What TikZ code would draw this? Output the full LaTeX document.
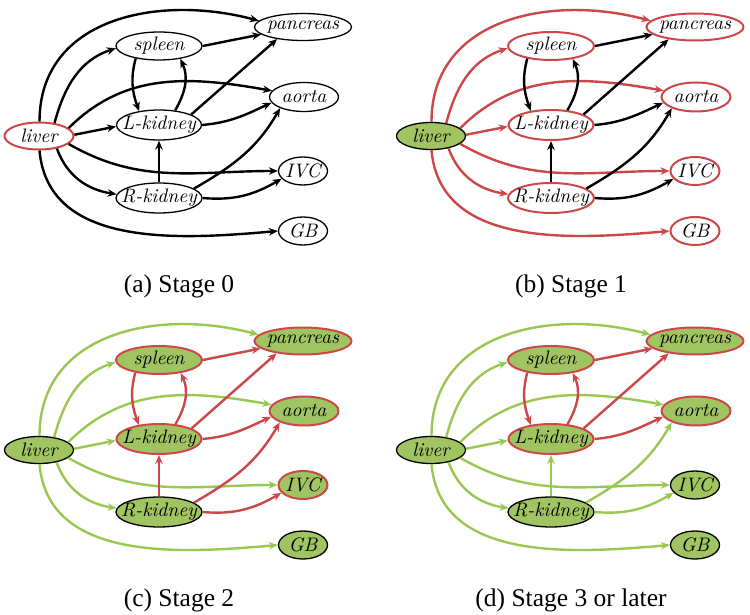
\documentclass[tikz,border=0pt]{standalone}
\usepackage{fontspec}
\usetikzlibrary{shapes.geometric,arrows.meta}
\newfontfamily\capfont{Liberation Serif}
\newfontfamily\orgfont{lmroman10-italic}[Extension=.otf]
\definecolor{myred}{RGB}{204,72,72}
\definecolor{mygreen}{RGB}{160,196,98}
\definecolor{mygreenE}{RGB}{152,200,82}
\newcommand\organfont{\orgfont\fontsize{19.5}{22}\selectfont}
\newcommand\draworgans{%
  \node[nd,nLiv,minimum width=69pt,minimum height=27pt] (liver) at (39,-136) {liver};
  \node[nd,nSp,minimum width=86pt,minimum height=28pt] (spleen) at (159,-46) {spleen};
  \node[nd,nPa,minimum width=97pt,minimum height=27pt] (pancreas) at (303,-27) {pancreas};
  \node[nd,nAo,minimum width=69pt,minimum height=29pt] (aorta) at (304,-97) {aorta};
  \node[nd,nLk,minimum width=85pt,minimum height=30pt] (Lk) at (159,-125) {L-kidney};
  \node[nd,nIv,minimum width=49pt,minimum height=28pt] (IVC) at (303,-171) {IVC};
  \node[nd,nRk,minimum width=86pt,minimum height=30pt] (Rk) at (159,-198) {R-kidney};
  \node[nd,nGb,minimum width=49pt,minimum height=28pt] (GB) at (303,-231) {GB};
  \draw[eLiv] (liver.88) to[out=90,in=165,looseness=1.1] (pancreas.172);
  \draw[eLiv] (liver.40) to[out=75,in=198] (spleen.183);
  \draw[eLiv] (liver.15) to[out=45,in=170] (aorta.169);
  \draw[eLiv] (liver.2) -- (Lk.182);
  \draw[eLiv] (liver.-15) to[out=-30,in=180] (IVC.west);
  \draw[eLiv] (liver.-35) to[out=-70,in=171] (Rk.175);
  \draw[eLiv] (liver.-88) to[out=-85,in=185] (GB.west);
  \draw[eOth] (spleen.east) -- (pancreas.190);
  \draw[eOth] (spleen.208) to[out=-105,in=110] (Lk.145);
  \draw[eOth] (Lk.42) to[out=60,in=-65] (spleen.-31);
  \draw[eOth] (Lk.18) -- (pancreas.205);
  \draw[eOth] (Lk.east) to[out=5,in=205] (aorta.190);
  \draw[eRk] (Rk.north) -- (Lk.south);
  \draw[eRk] (Rk.15) to[out=30,in=240] (aorta.205);
  \draw[eRk] (Rk.east) to[out=-5,in=210] (IVC.200);
}
\begin{document}
\begin{tikzpicture}[x=1pt,y=1pt,
  nd/.style={ellipse,inner xsep=-10pt,inner ysep=0pt,font=\organfont},
  sW/.style={draw=black,fill=white,line width=1.3pt},
  sR/.style={draw=myred,fill=white,line width=2pt},
  sG/.style={draw=black,fill=mygreen,line width=1.3pt},
  sGR/.style={draw=myred,fill=mygreen,line width=2pt},
  edg/.style={line width=2.4pt,-{Stealth[length=9pt,width=7.5pt]}},
  eK/.style={edg,draw=black},
  eRd/.style={edg,draw=myred},
  eGn/.style={edg,draw=mygreenE},
  captext/.style={font=\capfont\fontsize{25.5}{28}\selectfont,anchor=base}]
\useasboundingbox (0,0) rectangle (750,-615);
% (a)
\begin{scope}[name prefix=a-,
  nLiv/.style={sR},nSp/.style={sW},nPa/.style={sW},nAo/.style={sW},
  nLk/.style={sW},nIv/.style={sW},nRk/.style={sW},nGb/.style={sW},
  eLiv/.style={eK},eOth/.style={eK},eRk/.style={eK}]
\draworgans
\end{scope}
% (b)
\begin{scope}[shift={(392,0)},name prefix=b-,
  nLiv/.style={sG},nSp/.style={sR},nPa/.style={sR},nAo/.style={sR},
  nLk/.style={sR},nIv/.style={sR},nRk/.style={sR},nGb/.style={sR},
  eLiv/.style={eRd},eOth/.style={eK},eRk/.style={eK}]
\draworgans
\end{scope}
% (c)
\begin{scope}[shift={(0,-314)},name prefix=c-,
  nLiv/.style={sG},nSp/.style={sGR},nPa/.style={sGR},nAo/.style={sGR},
  nLk/.style={sGR},nIv/.style={sGR},nRk/.style={sG},nGb/.style={sG},
  eLiv/.style={eGn},eOth/.style={eRd},eRk/.style={eRd}]
\draworgans
\end{scope}
% (d)
\begin{scope}[shift={(392,-314)},name prefix=d-,
  nLiv/.style={sG},nSp/.style={sGR},nPa/.style={sGR},nAo/.style={sGR},
  nLk/.style={sGR},nIv/.style={sG},nRk/.style={sG},nGb/.style={sG},
  eLiv/.style={eGn},eOth/.style={eRd},eRk/.style={eGn}]
\draworgans
\end{scope}
\node[captext] (capa) at (179,-292) {(a) Stage 0};
\node[captext] (capb) at (571,-292) {(b) Stage 1};
\node[captext] (capc) at (179,-606) {(c) Stage 2};
\node[captext] (capd) at (571,-606) {(d) Stage 3 or later};
\end{tikzpicture}
\end{document}
